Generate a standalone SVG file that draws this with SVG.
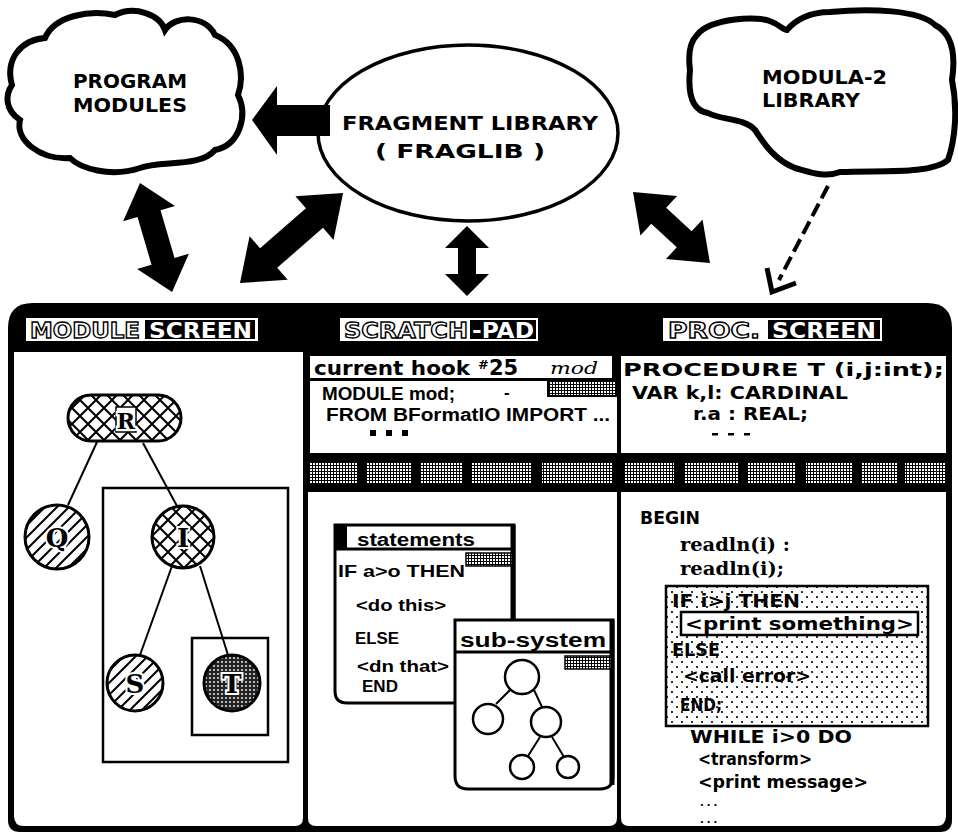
<svg xmlns="http://www.w3.org/2000/svg" width="958" height="836" viewBox="0 0 958 836">
<style>
.hd{font-family:"DejaVu Sans","Liberation Sans",sans-serif;font-weight:bold;}
.cl{font-family:"DejaVu Sans","Liberation Sans",sans-serif;font-weight:bold;font-size:19px;fill:#000;}
.out{fill:#fff;stroke:#000;stroke-width:1.3px;font-size:21px;}
.inv{fill:#fff;font-size:21px;}
.code{font-family:"DejaVu Sans","Liberation Sans",sans-serif;font-weight:bold;font-size:17px;fill:#000;}
.gen{font-family:"Liberation Sans","DejaVu Sans",sans-serif;font-weight:bold;font-size:17px;fill:#000;}
.ser{font-family:"DejaVu Serif","Liberation Serif",serif;font-weight:bold;font-size:18px;fill:#000;}
.lbl{font-family:"DejaVu Serif","Liberation Serif",serif;font-weight:bold;font-size:26px;fill:#000;stroke:#fff;stroke-width:4px;paint-order:stroke;text-anchor:middle;}
.edge{stroke:#000;stroke-width:2;fill:none;}
.arr{fill:#000;}
.win{fill:#fff;stroke:#000;stroke-width:3;}
</style>
<defs>
<pattern id="xh" width="16" height="16" patternUnits="userSpaceOnUse"><rect width="16" height="16" fill="#fff"/><path d="M0,0 L16,16 M16,0 L0,16" stroke="#000" stroke-width="2"/></pattern>
<pattern id="dh" width="12" height="12" patternUnits="userSpaceOnUse"><rect width="12" height="12" fill="#fff"/><path d="M0,12 L12,0 M-3,3 L3,-3 M9,15 L15,9" stroke="#000" stroke-width="2"/></pattern>
<pattern id="st" width="4" height="4" patternUnits="userSpaceOnUse"><rect width="4" height="4" fill="#222"/><circle cx="2" cy="2" r="0.9" fill="#fff"/></pattern>
<pattern id="gr" width="3" height="3" patternUnits="userSpaceOnUse"><rect width="3" height="3" fill="#fff"/><path d="M0,0.5 H3 M0.5,0 V3" stroke="#000" stroke-width="1"/></pattern>
<pattern id="dt" width="10" height="10" patternUnits="userSpaceOnUse"><rect width="10" height="10" fill="#fff"/><circle cx="2" cy="2" r="1.1" fill="#000"/><circle cx="7" cy="7" r="1.1" fill="#000"/></pattern>
</defs>

<!-- top nodes -->
<g id="program-modules">
<path d="M12,85 C5,60 20,40 45,38 C55,15 90,10 115,15 C135,5 160,15 165,30 C175,15 205,15 215,35 C240,45 245,75 238,95 C248,115 240,145 215,150 C200,168 160,160 140,168 C110,178 80,168 70,158 C40,160 15,140 20,120 C5,110 5,95 12,85 Z" fill="#fff" stroke="#000" stroke-width="6"/>
<text class="cl" x="73" y="88" textLength="114" lengthAdjust="spacingAndGlyphs">PROGRAM</text>
<text class="cl" x="73" y="112" textLength="114" lengthAdjust="spacingAndGlyphs">MODULES</text>
</g>
<g id="fragment-library">
<ellipse cx="468" cy="133" rx="150" ry="88" fill="#fff" stroke="#000" stroke-width="3.5"/>
<text class="cl" x="342" y="130" textLength="256" lengthAdjust="spacingAndGlyphs">FRAGMENT LIBRARY</text>
<text class="cl" x="375" y="158" textLength="170" lengthAdjust="spacingAndGlyphs">( FRAGLIB )</text>
</g>
<g id="modula2-library">
<path d="M697,35 C710,18 760,15 772,22 C780,25 783,30 787,30 C795,20 810,12 830,12 C870,8 920,10 935,25 C955,35 955,60 952,80 C958,110 955,140 948,160 C930,175 880,170 840,172 C825,178 810,172 795,168 C775,160 765,145 755,130 C745,118 720,120 708,113 C690,110 688,90 690,70 C688,55 690,42 697,35 Z" fill="#fff" stroke="#000" stroke-width="6"/>
<text class="cl" x="762" y="84" textLength="125" lengthAdjust="spacingAndGlyphs">MODULA-2</text>
<text class="cl" x="762" y="107" textLength="98" lengthAdjust="spacingAndGlyphs">LIBRARY</text>
</g>

<!-- connectors -->
<g id="connectors">
<polygon class="arr" points="252,120 277,86 277,105 330,105 330,136 277,136 277,155"/>
<polygon class="arr" transform="translate(140,183) rotate(73.6)" points="0,0 32,-27 32,-12 81.6,-12 81.6,-27 113.6,0 81.6,27 81.6,12 32,12 32,27"/>
<polygon class="arr" transform="translate(240,283) rotate(-41.1)" points="0,0 38,-29 38,-13 98.8,-13 98.8,-29 136.8,0 98.8,29 98.8,13 38,13 38,29"/>
<polygon class="arr" transform="translate(467,226) rotate(90)" points="0,0 22,-22 22,-9 48,-9 48,-22 70,0 48,22 48,9 22,9 22,22"/>
<polygon class="arr" transform="translate(633,192) rotate(42.7)" points="0,0 35,-27 35,-11 69.7,-11 69.7,-27 104.7,0 69.7,27 69.7,11 35,11 35,27"/>
<path d="M828,186 L779,280" stroke="#000" stroke-width="4" stroke-dasharray="14 6" fill="none"/>
<path d="M767,268 L772,292 L796,283" stroke="#000" stroke-width="5" fill="none"/>
</g>

<!-- main frame -->
<g id="frame">
<path d="M8,328 Q8,303 33,303 H927 Q952,303 952,328 V820 Q952,832 940,832 H20 Q8,832 8,820 Z" fill="#000"/>
</g>

<g id="module-screen">
<path d="M14,352 H303 V818 Q303,826 295,826 H24 Q14,826 14,816 Z" fill="#fff"/>
<rect x="26" y="318" width="232" height="23" fill="#fff"/>
<text class="hd out" x="30" y="338" textLength="110" lengthAdjust="spacingAndGlyphs">MODULE</text>
<rect x="145" y="320" width="110" height="19" fill="#000"/>
<text class="hd inv" x="149" y="338" textLength="103" lengthAdjust="spacingAndGlyphs">SCREEN</text>
<rect x="103" y="488" width="185" height="274" fill="none" stroke="#000" stroke-width="2.5"/>
<rect x="192" y="638" width="76" height="97" fill="none" stroke="#000" stroke-width="2.5"/>
<line class="edge" x1="97" y1="442" x2="68" y2="505"/>
<line class="edge" x1="143" y1="443" x2="177" y2="506"/>
<line class="edge" x1="172" y1="566" x2="140" y2="655"/>
<line class="edge" x1="200" y1="566" x2="228" y2="655"/>
<g id="node-R"><rect x="68" y="395" width="113" height="46" rx="23" fill="url(#xh)" stroke="#000" stroke-width="3"/><rect x="116" y="407" width="20" height="25" fill="#fff" stroke="#000" stroke-width="1.5"/><text class="lbl" x="126" y="429" style="font-size:22px">R</text></g>
<g id="node-Q"><circle cx="57" cy="537" r="32" fill="url(#dh)" stroke="#000" stroke-width="3"/><text class="lbl" x="57" y="547">Q</text></g>
<g id="node-I"><circle cx="183" cy="537" r="31" fill="url(#xh)" stroke="#000" stroke-width="3"/><text class="lbl" x="183" y="547">I</text></g>
<g id="node-S"><circle cx="135" cy="683" r="28" fill="url(#dh)" stroke="#000" stroke-width="3"/><text class="lbl" x="135" y="693">S</text></g>
<g id="node-T"><circle cx="232" cy="683" r="28" fill="url(#st)" stroke="#000" stroke-width="3"/><text class="lbl" x="232" y="693">T</text></g>
</g>

<g id="scratch-pad">
<rect x="340" y="318" width="198" height="23" fill="#fff"/>
<text class="hd out" x="344" y="338" textLength="124" lengthAdjust="spacingAndGlyphs">SCRATCH</text>
<rect x="470" y="320" width="66" height="19" fill="#000"/>
<text class="hd inv" x="472" y="338" textLength="62" lengthAdjust="spacingAndGlyphs">-PAD</text>
<rect x="310" y="356" width="302" height="22" fill="#fff"/>
<text class="hd" x="314" y="375" style="font-size:20px" textLength="156" lengthAdjust="spacingAndGlyphs">current hook</text>
<text class="hd" x="478" y="375" style="font-size:21px"><tspan style="font-size:13px" dy="-6">#</tspan><tspan dy="6">25</tspan></text>
<text x="550" y="374" font-family="DejaVu Serif, serif" font-style="italic" font-size="17" textLength="48" lengthAdjust="spacingAndGlyphs">mod</text>
<rect x="310" y="381" width="307" height="72" fill="#fff"/>
<rect x="548" y="380" width="69" height="16" fill="url(#gr)" stroke="#000" stroke-width="2"/>
<text class="gen" x="322" y="400" style="font-size:18px" textLength="133" lengthAdjust="spacingAndGlyphs">MODULE mod;</text>
<text class="gen" x="504" y="398">-</text>
<text class="gen" x="326" y="421" style="font-size:18px" textLength="284" lengthAdjust="spacingAndGlyphs">FROM BFormatIO IMPORT ...</text>
<rect x="370" y="430" width="6" height="6" fill="#000"/><rect x="386" y="430" width="6" height="6" fill="#000"/><rect x="402" y="430" width="6" height="6" fill="#000"/>
<rect x="310" y="462" width="47" height="21" fill="url(#gr)"/>
<rect x="367" y="462" width="45" height="21" fill="url(#gr)"/>
<rect x="421" y="462" width="42" height="21" fill="url(#gr)"/>
<rect x="472" y="462" width="60" height="21" fill="url(#gr)"/>
<rect x="542" y="462" width="70" height="21" fill="url(#gr)"/>
<path d="M308,492 H617 V818 Q617,826 609,826 H316 Q308,826 308,818 Z" fill="#fff"/>
<g id="statements-window">
<path class="win" d="M335,525 H514 V703 H347 Q335,703 335,691 Z"/>
<rect x="335" y="525" width="12" height="24" fill="#000"/>
<line x1="335" y1="549" x2="514" y2="549" stroke="#000" stroke-width="3"/>
<line x1="513" y1="525" x2="513" y2="703" stroke="#000" stroke-width="5"/>
<text class="gen" x="357" y="546" style="font-size:18px" textLength="118" lengthAdjust="spacingAndGlyphs">statements</text>
<rect x="466" y="553" width="46" height="13" fill="url(#gr)" stroke="#000" stroke-width="1.5"/>
<text class="gen" x="338" y="577" textLength="127" lengthAdjust="spacingAndGlyphs">IF a&gt;o THEN</text>
<text class="gen" x="356" y="611" textLength="90" lengthAdjust="spacingAndGlyphs">&lt;do this&gt;</text>
<text class="gen" x="355" y="644" textLength="44" lengthAdjust="spacingAndGlyphs">ELSE</text>
<text class="gen" x="357" y="672" textLength="92" lengthAdjust="spacingAndGlyphs">&lt;dn that&gt;</text>
<text class="gen" x="362" y="692" textLength="36" lengthAdjust="spacingAndGlyphs">END</text>
</g>
<g id="sub-system-window">
<path class="win" d="M455,620 H613 V776 Q613,789 600,789 H468 Q455,789 455,776 Z"/>
<line x1="612" y1="620" x2="612" y2="785" stroke="#000" stroke-width="5"/>
<line x1="455" y1="652" x2="613" y2="652" stroke="#000" stroke-width="3"/>
<text class="gen" x="460" y="647" style="font-size:20px" textLength="146" lengthAdjust="spacingAndGlyphs">sub-system</text>
<rect x="565" y="656" width="46" height="13" fill="url(#gr)" stroke="#000" stroke-width="1.5"/>
<path class="edge" d="M510,690 L496,704 M534,690 L542,707 M540,737 L528,756 M552,737 L564,757"/>
<circle cx="522" cy="677" r="17" fill="#fff" stroke="#000" stroke-width="2.5"/>
<circle cx="488" cy="719" r="15" fill="#fff" stroke="#000" stroke-width="2.5"/>
<circle cx="546" cy="722" r="15" fill="#fff" stroke="#000" stroke-width="2.5"/>
<circle cx="522" cy="767" r="12" fill="#fff" stroke="#000" stroke-width="2.5"/>
<circle cx="568" cy="767" r="11" fill="#fff" stroke="#000" stroke-width="2.5"/>
</g>
</g>

<g id="proc-screen">
<rect x="663" y="318" width="219" height="23" fill="#fff"/>
<text class="hd out" x="668" y="338" textLength="92" lengthAdjust="spacingAndGlyphs">PROC.</text>
<rect x="768" y="320" width="112" height="19" fill="#000"/>
<text class="hd inv" x="772" y="338" textLength="104" lengthAdjust="spacingAndGlyphs">SCREEN</text>
<rect x="621" y="356" width="325" height="97" fill="#fff"/>
<text class="code" x="623" y="376" textLength="321" lengthAdjust="spacingAndGlyphs">PROCEDURE T (i,j:int);</text>
<text class="code" x="632" y="399" textLength="216" lengthAdjust="spacingAndGlyphs">VAR k,l:  CARDINAL</text>
<text class="code" x="693" y="420" textLength="115" lengthAdjust="spacingAndGlyphs">r.a : REAL;</text>
<rect x="712" y="433" width="6" height="2.5" fill="#000"/><rect x="728" y="433" width="6" height="2.5" fill="#000"/><rect x="744" y="433" width="6" height="2.5" fill="#000"/>
<rect x="624" y="462" width="50" height="21" fill="url(#gr)"/>
<rect x="684" y="462" width="54" height="21" fill="url(#gr)"/>
<rect x="747" y="462" width="49" height="21" fill="url(#gr)"/>
<rect x="806" y="462" width="46" height="21" fill="url(#gr)"/>
<rect x="862" y="462" width="36" height="21" fill="url(#gr)"/>
<rect x="905" y="462" width="41" height="21" fill="url(#gr)"/>
<path d="M621,492 H946 V816 Q946,826 936,826 H629 Q621,826 621,818 Z" fill="#fff"/>
<text class="code" x="640" y="524" textLength="60" lengthAdjust="spacingAndGlyphs">BEGIN</text>
<text class="ser" x="680" y="551" textLength="110" lengthAdjust="spacingAndGlyphs">readln(i) :</text>
<text class="ser" x="680" y="575" textLength="104" lengthAdjust="spacingAndGlyphs">readln(i);</text>
<rect x="666" y="586" width="262" height="140" fill="url(#dt)" stroke="#000" stroke-width="2.5"/>
<text class="code" x="672" y="607" textLength="128" lengthAdjust="spacingAndGlyphs">IF i&gt;j THEN</text>
<rect x="681" y="612" width="237" height="23" fill="#fff" stroke="#000" stroke-width="2.5"/>
<text class="code" x="685" y="630" textLength="229" lengthAdjust="spacingAndGlyphs">&lt;print something&gt;</text>
<text class="code" x="672" y="656" textLength="48" lengthAdjust="spacingAndGlyphs">ELSE</text>
<text class="code" x="683" y="682" textLength="128" lengthAdjust="spacingAndGlyphs">&lt;call error&gt;</text>
<text class="code" x="680" y="711" textLength="42" lengthAdjust="spacingAndGlyphs">END;</text>
<text class="code" x="690" y="743" textLength="162" lengthAdjust="spacingAndGlyphs">WHILE i&gt;0 DO</text>
<text class="code" x="698" y="765" textLength="114" lengthAdjust="spacingAndGlyphs">&lt;transform&gt;</text>
<text class="code" x="698" y="788" textLength="170" lengthAdjust="spacingAndGlyphs">&lt;print message&gt;</text>
<text class="code" x="700" y="806" style="font-size:10px;letter-spacing:3px">...</text>
<text class="code" x="700" y="823" style="font-size:10px;letter-spacing:3px">...</text>
</g>
</svg>
